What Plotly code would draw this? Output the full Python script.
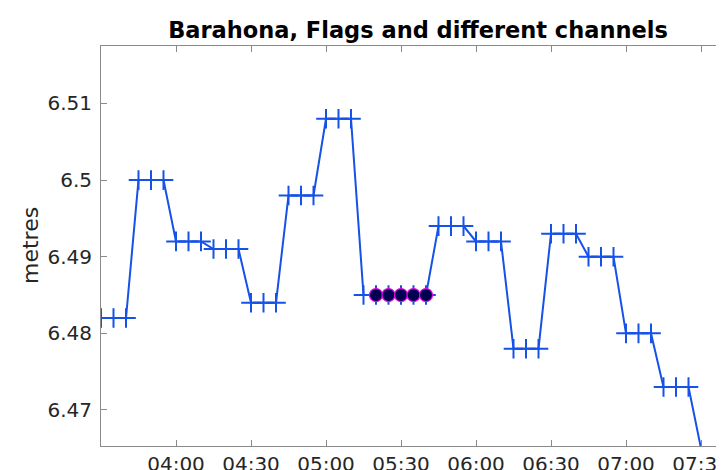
import plotly.graph_objects as go
import pandas as pd

# ---- data ----
times = pd.date_range("2020-01-01 03:30", "2020-01-01 07:30", freq="5min")
levels = [
    6.482, 6.482, 6.482,
    6.500, 6.500, 6.500,
    6.492, 6.492, 6.492,
    6.491, 6.491, 6.491,
    6.484, 6.484, 6.484,
    6.498, 6.498, 6.498,
    6.508, 6.508, 6.508,
    6.485, 6.485, 6.485,
    6.485, 6.485, 6.485,
    6.494, 6.494, 6.494,
    6.492, 6.492, 6.492,
    6.478, 6.478, 6.478,
    6.493, 6.493, 6.493,
    6.490, 6.490, 6.490,
    6.480, 6.480, 6.480,
    6.473, 6.473, 6.473,
    6.465,
]
flag_times = pd.to_datetime(["2020-01-01 05:20", "2020-01-01 05:25", "2020-01-01 05:30",
                             "2020-01-01 05:35", "2020-01-01 05:40"])
x_tick_times = pd.date_range("2020-01-01 04:00", "2020-01-01 07:30", freq="30min")
x_tick_labels = ["04:00", "04:30", "05:00", "05:30", "06:00", "06:30", "07:00", "07:30"]
y_tick_vals = [6.47, 6.48, 6.49, 6.50, 6.51]
y_tick_labels = ["6.47", "6.48", "6.49", "6.5", "6.51"]
title_text = "Barahona, Flags and different channels"
y_label = "metres"

y_range = [6.4653, 6.5175]
x_range = [pd.Timestamp("2020-01-01 03:30"), pd.Timestamp("2020-01-01 07:39:12")]

series = pd.Series(levels, index=times)
flag_vals = series.loc[flag_times]
inside = series[series >= y_range[0]]

BLUE = "rgb(22,82,232)"
TXT = "#262626"
AX = "#8a8a8a"

# page body has an 8px default margin; figure sized so it ends at the window edge
W, H = 716, 462

fig = go.Figure()
fig.add_trace(go.Scatter(x=series.index, y=series.values, mode="lines",
                         line=dict(color=BLUE, width=2), showlegend=False))
fig.add_trace(go.Scatter(x=inside.index, y=inside.values, mode="markers",
                         marker=dict(symbol="cross-thin", size=14,
                                     line=dict(color=BLUE, width=2)),
                         showlegend=False))
fig.add_trace(go.Scatter(x=flag_vals.index, y=flag_vals.values, mode="markers",
                         marker=dict(symbol="circle", size=13, color="rgb(0,0,80)",
                                     line=dict(color="rgb(230,0,230)", width=1.2)),
                         showlegend=False))

fig.update_layout(
    width=W, height=H,
    margin=dict(l=93, r=0, t=38, b=24, autoexpand=False),
    paper_bgcolor="white", plot_bgcolor="white",
    font=dict(family="DejaVu Sans", color=TXT),
    title=dict(text="<b>" + title_text + "</b>", x=(418 - 8) / W, xref="container",
               xanchor="center", y=1 - (30 - 8) / H, yref="container", yanchor="middle",
               font=dict(family="DejaVu Sans", size=22.5, color="black")),
    annotations=[dict(text=y_label, xref="paper", yref="paper",
                      x=(30 - 101) / 623, y=0.5, textangle=-90, showarrow=False,
                      xanchor="center", yanchor="middle",
                      font=dict(family="DejaVu Sans", size=22, color=TXT))],
)
fig.update_xaxes(type="date", range=x_range, automargin=False,
                 tickmode="array", tickvals=x_tick_times, ticktext=x_tick_labels,
                 ticklabeloverflow="allow",
                 ticks="inside", ticklen=6, tickcolor=AX, showline=True,
                 linecolor=AX, linewidth=1, mirror="ticks", showgrid=False,
                 zeroline=False, tickfont=dict(size=20, color=TXT))
fig.update_yaxes(range=y_range, automargin=False,
                 tickmode="array", tickvals=y_tick_vals, ticktext=y_tick_labels,
                 ticklabelstandoff=4,
                 ticks="inside", ticklen=6, tickcolor=AX, showline=True,
                 linecolor=AX, linewidth=1, mirror=False, showgrid=False,
                 zeroline=False, tickfont=dict(size=20, color=TXT))

fig.write_html("out.html")
